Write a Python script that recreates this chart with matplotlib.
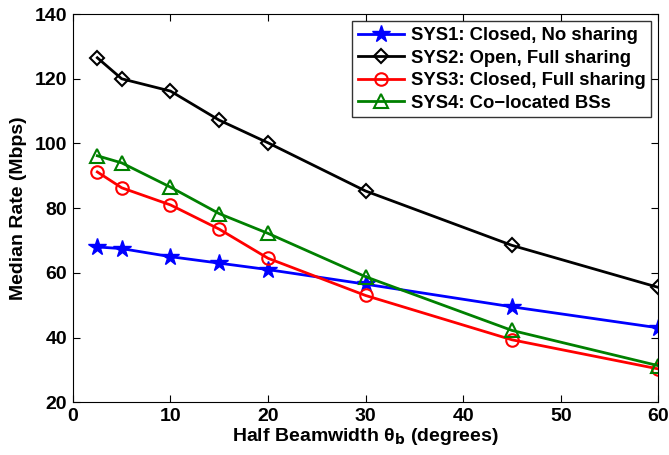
import matplotlib
matplotlib.use("Agg")
import matplotlib.pyplot as plt

# data
beamwidth = [2.5, 5, 10, 15, 20, 30, 45, 60]
sys1 = [68, 67.5, 65, 63, 61, 56.5, 49.5, 43]
sys2 = [126.5, 120, 116.2, 107.2, 100.2, 85.3, 68.5, 55.5]
sys3 = [91.2, 86.3, 81, 73.5, 64.5, 53, 39.3, 30.3]
sys4 = [96.2, 94, 86.5, 78.3, 72.2, 58.8, 42.2, 31.3]
labels = ["SYS1: Closed, No sharing", "SYS2: Open, Full sharing",
          "SYS3: Closed, Full sharing", "SYS4: Co\u2212located BSs"]

plt.rcParams["font.family"] = ["Liberation Sans", "DejaVu Sans"]
plt.rcParams["font.weight"] = "bold"

fig = plt.figure(figsize=(6.69, 4.55), dpi=100)
ax = fig.add_axes([0.109, 0.116, 0.875, 0.853])

ax.plot(beamwidth, sys1, "-*", color="blue", lw=2, ms=13, label=labels[0])
ax.plot(beamwidth, sys2, "-D", color="black", lw=2, ms=7, mfc="none", mew=1.5, label=labels[1])
ax.plot(beamwidth, sys3, "-o", color="red", lw=2, ms=9, mfc="none", mew=1.5, label=labels[2])
ax.plot(beamwidth, sys4, "-^", color="green", lw=2, ms=10, mfc="none", mew=1.5, label=labels[3])

ax.set_xlim(0, 60)
ax.set_ylim(20, 140)
ax.set_xticks(range(0, 61, 10))
ax.set_yticks(range(20, 141, 20))
ax.tick_params(direction="in", top=True, right=True, labelsize=14, length=5, pad=4)
for lbl in ax.get_xticklabels() + ax.get_yticklabels():
    lbl.set_fontweight("bold")

ax.set_xlabel("Half Beamwidth \u03b8$_\\mathbf{b}$ (degrees)", fontsize=14, fontweight="bold", labelpad=1)
ax.set_ylabel("Median Rate (Mbps)", fontsize=14, fontweight="bold", labelpad=6)

leg = ax.legend(loc="upper right", fontsize=13.3, frameon=True, fancybox=False,
                edgecolor="black", handlelength=2.5, borderpad=0.3, labelspacing=0.3,
                handletextpad=0.35, borderaxespad=0.4)
leg.get_frame().set_linewidth(1.0)

fig.savefig("out.png", dpi=100)
